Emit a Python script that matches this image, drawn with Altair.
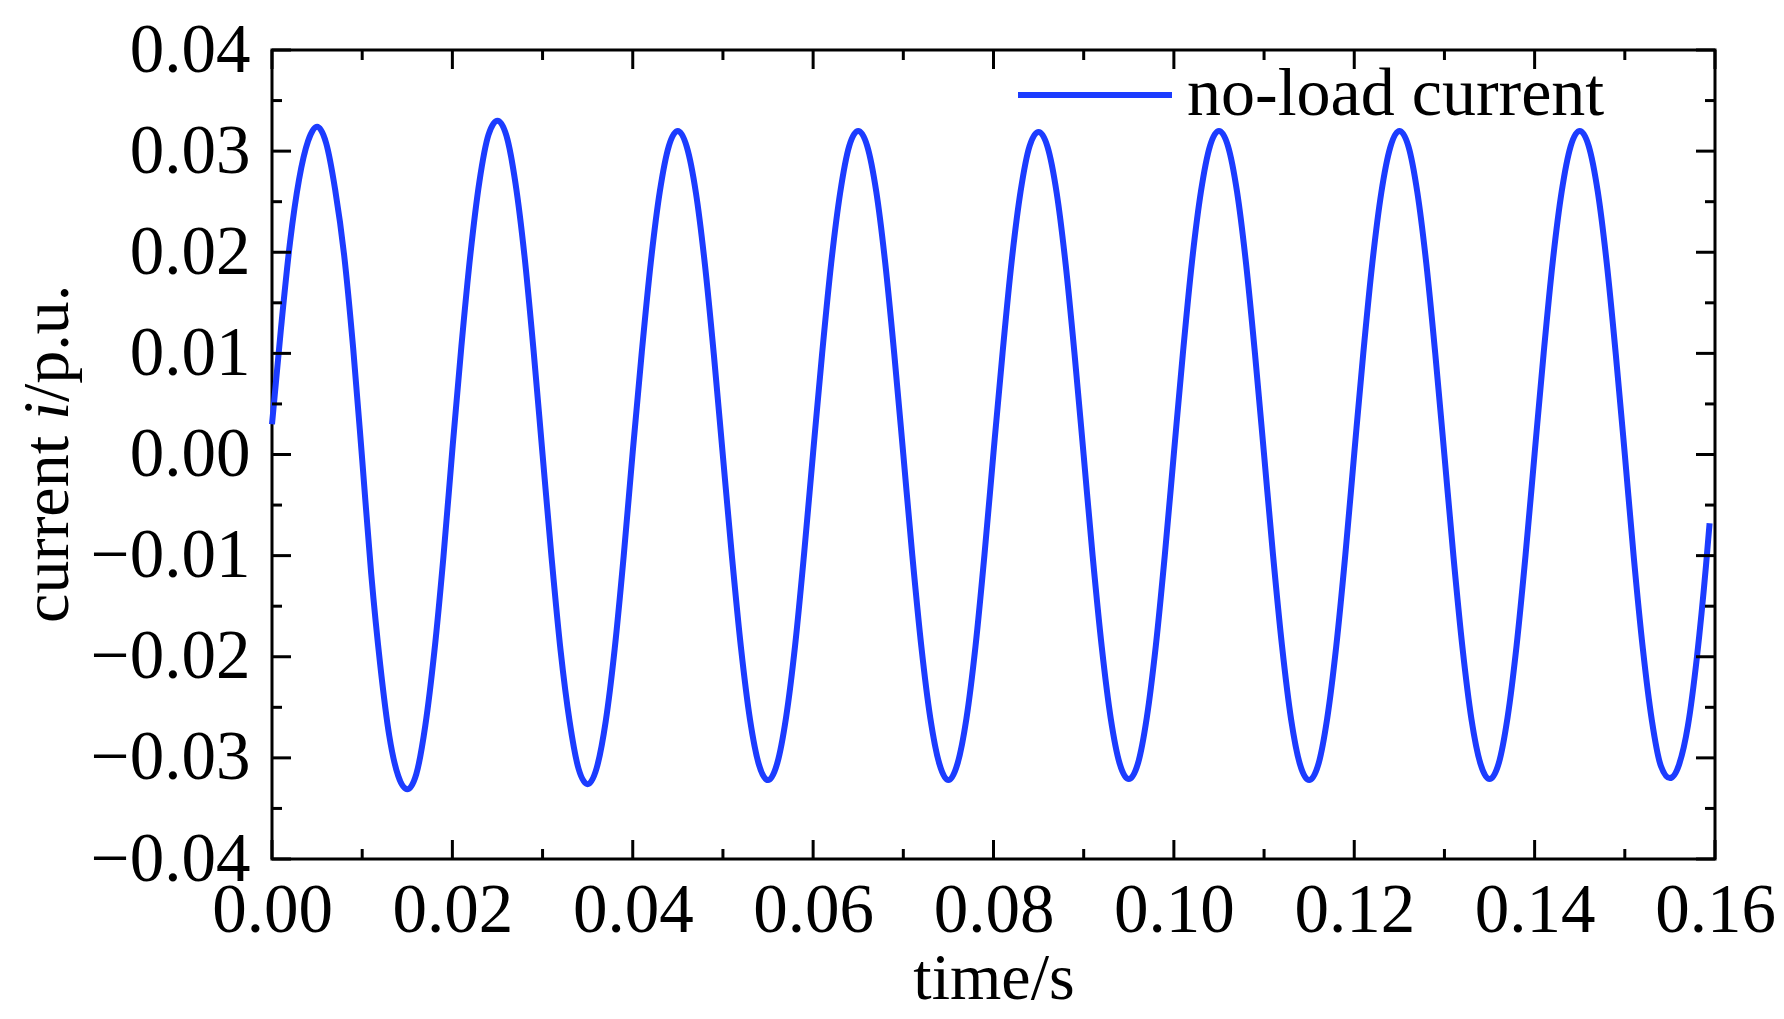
import altair as alt
import pandas as pd

cycle0 = [0.0030, 0.0125, 0.0210, 0.0272, 0.0310, 0.0324, 0.0308, 0.0262, 0.0197, 0.0105,
          -0.0005, -0.0118, -0.0208, -0.0278, -0.0318, -0.0331, -0.0316, -0.0268, -0.0195, -0.0102]
cycle1 = [0.0005, 0.0107, 0.0198, 0.0270, 0.0316, 0.0330, 0.0315, 0.0268, 0.0196, 0.0103,
          0.0000, -0.0102, -0.0194, -0.0264, -0.0311, -0.0326, -0.0310, -0.0264, -0.0192, -0.0100]
cycle2 = [0.0003, 0.0101, 0.0190, 0.0260, 0.0305, 0.0320, 0.0304, 0.0259, 0.0188, 0.0098,
          -0.0002, -0.0101, -0.0191, -0.0262, -0.0307, -0.0322, -0.0306, -0.0260, -0.0189, -0.0098]
cycle3 = [0.0002, 0.0100, 0.0189, 0.0259, 0.0305, 0.0320, 0.0305, 0.0260, 0.0189, 0.0099,
          0.0000, -0.0100, -0.0190, -0.0261, -0.0306, -0.0322, -0.0306, -0.0261, -0.0190, -0.0099]
cycle4 = [0.0002, 0.0100, 0.0190, 0.0260, 0.0305, 0.0319, 0.0304, 0.0259, 0.0188, 0.0098,
          -0.0001, -0.0101, -0.0190, -0.0261, -0.0306, -0.0321, -0.0306, -0.0260, -0.0189, -0.0099]
cycle5 = [0.0001, 0.0100, 0.0190, 0.0260, 0.0305, 0.0320, 0.0305, 0.0260, 0.0189, 0.0099,
          0.0000, -0.0100, -0.0190, -0.0262, -0.0307, -0.0322, -0.0307, -0.0261, -0.0190, -0.0100]
cycle6 = [0.0001, 0.0100, 0.0189, 0.0259, 0.0304, 0.0320, 0.0305, 0.0259, 0.0188, 0.0098,
          -0.0001, -0.0101, -0.0191, -0.0262, -0.0306, -0.0321, -0.0306, -0.0260, -0.0189, -0.0099]
cycle7 = [0.0001, 0.0100, 0.0190, 0.0260, 0.0305, 0.0320, 0.0305, 0.0260, 0.0189, 0.0099,
          0.0000, -0.0102, -0.0192, -0.0263, -0.0308, -0.0320, -0.0307, -0.0268, -0.0200, -0.0110]
end_time = [0.1594]
end_value = [-0.0068]

current = cycle0 + cycle1 + cycle2 + cycle3 + cycle4 + cycle5 + cycle6 + cycle7 + end_value
time = [round(i * 0.001, 4) for i in range(160)] + end_time
series_name = "no-load current"

x_major = [0.00, 0.02, 0.04, 0.06, 0.08, 0.10, 0.12, 0.14, 0.16]
x_minor = [0.01, 0.03, 0.05, 0.07, 0.09, 0.11, 0.13, 0.15]
y_major = [-0.04, -0.03, -0.02, -0.01, 0.00, 0.01, 0.02, 0.03, 0.04]
y_minor = [-0.035, -0.025, -0.015, -0.005, 0.005, 0.015, 0.025, 0.035]

W, H = 1443, 809
FONT = "Liberation Serif"
FS = 66
LFS = 69
BLUE = "#1c3cff"

df = pd.DataFrame({"time": time, "current": current, "series": series_name})

xs = alt.Scale(domain=[0, 0.16], nice=False, zero=False)
ys = alt.Scale(domain=[-0.04, 0.04], nice=False, zero=False)

x_axis = alt.Axis(title="time/s", values=x_major, format=".2f", ticks=False,
                  domain=False, grid=False, labelFlush=False, labelOverlap=False,
                  labelPadding=17, titlePadding=1)
y_axis = alt.Axis(title=None, values=y_major, format=".2f", ticks=False,
                  domain=False, grid=False, labelFlush=False, labelOverlap=False,
                  labelPadding=22)

line = alt.Chart(df).mark_line(strokeWidth=6, interpolate="monotone").encode(
    x=alt.X("time:Q", scale=xs, axis=x_axis),
    y=alt.Y("current:Q", scale=ys, axis=y_axis),
    color=alt.Color("series:N", scale=alt.Scale(range=[BLUE]),
                    legend=alt.Legend(title=None, orient="none", legendX=743, legendY=-35,
                                      symbolType="stroke", symbolSize=23716,
                                      symbolStrokeWidth=6, labelFontSize=68,
                                      labelFont=FONT, labelColor="black", labelLimit=0,
                                      labelOffset=12, padding=0)),
)

def xticks(vals, length, top):
    d = pd.DataFrame({"time": vals})
    if top:
        y0, y1 = 0, length
    else:
        y0, y1 = H, H - length
    return alt.Chart(d).mark_rule(color="black", strokeWidth=3).encode(
        x=alt.X("time:Q", scale=xs, axis=x_axis), y=alt.value(y0), y2=alt.value(y1))

def yticks(vals, length, left):
    d = pd.DataFrame({"current": vals})
    if left:
        x0, x1 = 0, length
    else:
        x0, x1 = W, W - length
    return alt.Chart(d).mark_rule(color="black", strokeWidth=3).encode(
        y=alt.Y("current:Q", scale=ys, axis=y_axis), x=alt.value(x0), x2=alt.value(x1))

MAJ, MIN = 19, 10
tick_layers = [
    xticks(x_major, MAJ, False), xticks(x_minor, MIN, False),
    xticks(x_major, MAJ, True), xticks(x_minor, MIN, True),
    yticks(y_major, MAJ, True), yticks(y_minor, MIN, True),
    yticks(y_major, MAJ, False), yticks(y_minor, MIN, False),
]

one = pd.DataFrame({"a": [0]})
TX = -204
title_a = alt.Chart(one).mark_text(angle=270, align="right", baseline="alphabetic",
                                   font=FONT, fontSize=FS, color="black").encode(
    x=alt.value(TX), y=alt.value(386), text=alt.value("current"))
title_b = alt.Chart(one).mark_text(angle=270, align="left", baseline="alphabetic",
                                   font=FONT, fontSize=FS, fontStyle="italic", color="black").encode(
    x=alt.value(TX), y=alt.value(370), text=alt.value("i"))
title_c = alt.Chart(one).mark_text(angle=270, align="left", baseline="alphabetic",
                                   font=FONT, fontSize=FS, color="black").encode(
    x=alt.value(TX), y=alt.value(352), text=alt.value("/p.u."))

chart = alt.layer(line, *tick_layers, title_a, title_b, title_c).properties(
    width=W, height=H,
    background="white",
    autosize=alt.AutoSizeParams(type="none"),
    padding={"left": 264, "top": 42, "right": 61, "bottom": 152},
).configure_view(
    stroke="black", strokeWidth=3
).configure_axis(
    labelFont=FONT, labelFontSize=LFS, labelColor="black",
    titleFont=FONT, titleFontSize=FS, titleFontWeight="normal", titleColor="black",
)

chart.save("out.html", embed_options={"renderer": "svg", "actions": False})
